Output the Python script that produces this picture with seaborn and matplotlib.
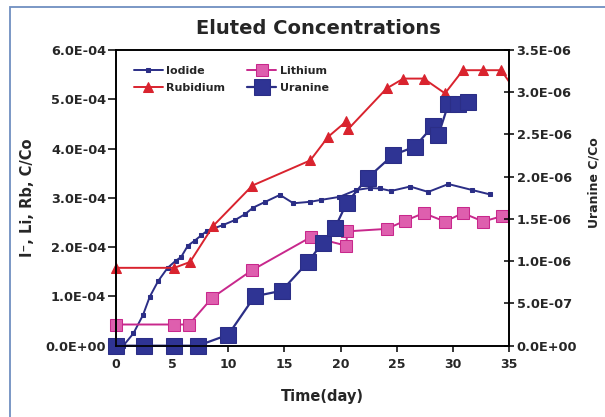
import matplotlib
matplotlib.use("Agg")
import matplotlib.pyplot as plt
import pandas as pd
import seaborn as sns
from matplotlib.patches import Rectangle
from matplotlib.ticker import FixedLocator, FuncFormatter

# ---- data (left axis series in units of 1e-4, uranine in units of 1e-6) ----
iodide_day = [0.0, 0.65, 1.55, 2.4, 3.0, 3.75, 4.6, 5.3, 5.8, 6.4, 7.0, 7.6, 8.1,
              9.55, 10.6, 11.5, 12.2, 13.3, 14.6, 15.8, 17.3, 18.3, 19.9, 21.4,
              22.6, 23.5, 24.5, 26.2, 27.8, 29.6, 31.7, 33.3]
iodide_c = [0.0, 0.0, 0.25, 0.62, 0.99, 1.31, 1.58, 1.72, 1.80, 2.03, 2.13, 2.24, 2.33,
            2.45, 2.55, 2.67, 2.80, 2.92, 3.06, 2.89, 2.92, 2.96, 3.02, 3.16,
            3.20, 3.19, 3.14, 3.23, 3.12, 3.28, 3.16, 3.07]

rubidium_day = [0.0, 5.2, 6.6, 8.65, 12.15, 17.3, 18.9, 20.5, 20.7, 24.1, 25.6,
                27.4, 29.3, 30.9, 32.7, 34.3, 35.0]
rubidium_c = [1.58, 1.58, 1.70, 2.43, 3.25, 3.76, 4.24, 4.55, 4.40, 5.22, 5.42,
              5.42, 5.12, 5.59, 5.59, 5.59, 5.36]

lithium_day = [0.0, 5.2, 6.5, 8.55, 12.1, 17.4, 20.5, 20.6, 24.1, 25.7, 27.4,
               29.3, 30.9, 32.7, 34.4, 35.0]
lithium_c = [0.43, 0.43, 0.43, 0.97, 1.53, 2.21, 2.03, 2.32, 2.37, 2.53, 2.69,
             2.52, 2.69, 2.52, 2.63, 2.59]

uranine_day = [0.0, 2.5, 5.2, 7.3, 10.0, 12.35, 14.75, 17.1, 18.4, 19.5, 20.55,
               22.4, 24.65, 26.6, 28.2, 28.7, 29.6, 30.5, 31.35]
uranine_c = [0.0, 0.0, 0.0, 0.0, 0.13, 0.585, 0.65, 0.99, 1.22, 1.395, 1.69,
             1.985, 2.255, 2.355, 2.595, 2.49, 2.86, 2.86, 2.89]

left_ticks = [0.0, 1e-4, 2e-4, 3e-4, 4e-4, 5e-4, 6e-4]
right_ticks = [0.0, 5e-7, 1e-6, 1.5e-6, 2e-6, 2.5e-6, 3e-6, 3.5e-6]
x_ticks = [0, 5, 10, 15, 20, 25, 30, 35]

NAVY = "#2b2e86"
RED = "#d9232e"
MAGENTA = "#c8288c"

iod = pd.DataFrame({"day": iodide_day, "c": [v * 1e-4 for v in iodide_c]})
rb = pd.DataFrame({"day": rubidium_day, "c": [v * 1e-4 for v in rubidium_c]})
li = pd.DataFrame({"day": lithium_day, "c": [v * 1e-4 for v in lithium_c]})
ur = pd.DataFrame({"day": uranine_day, "c": [v * 1e-6 for v in uranine_c]})

sns.set_theme(style="white")
plt.rcParams["font.family"] = ["DejaVu Sans"]
plt.rcParams["font.weight"] = "bold"
plt.rcParams["axes.labelweight"] = "bold"

fig = plt.figure(figsize=(6.05, 4.17), dpi=100)
fig.patch.set_facecolor("white")
# light frame around the figure
fig.add_artist(Rectangle((10 / 605, -0.2), 1.2, 1.2 - 7 / 417, transform=fig.transFigure,
                         fill=False, edgecolor="#6f8fc0", linewidth=1.3))

ax = fig.add_axes([116 / 605, 1 - 345.7 / 417, 393 / 605, 295.7 / 417])
ax2 = ax.twinx()

sns.lineplot(data=iod, x="day", y="c", ax=ax, color=NAVY, linewidth=1.4, sort=False,
             estimator=None, marker="s", markersize=3.5, markeredgecolor=NAVY,
             markerfacecolor=NAVY, clip_on=False, label="Iodide")
sns.lineplot(data=rb, x="day", y="c", ax=ax, color=RED, linewidth=1.4, sort=False,
             estimator=None, marker="^", markersize=7, markeredgecolor=RED,
             markerfacecolor=RED, clip_on=False, markevery=list(range(len(rb) - 1)),
             label="Rubidium")
sns.lineplot(data=li, x="day", y="c", ax=ax, color=MAGENTA, linewidth=1.4, sort=False,
             estimator=None, marker="s", markersize=8, markeredgecolor=MAGENTA,
             markerfacecolor="#de5fae", clip_on=False, markevery=list(range(len(li) - 1)),
             label="Lithium")
sns.lineplot(data=ur, x="day", y="c", ax=ax2, color=NAVY, linewidth=1.6, sort=False,
             estimator=None, marker="s", markersize=11, markeredgecolor=NAVY,
             markerfacecolor="#2f3494", clip_on=False, label="Uranine")

h1, l1 = ax.get_legend_handles_labels()
h2, l2 = ax2.get_legend_handles_labels()
if ax.get_legend() is not None:
    ax.get_legend().remove()
if ax2.get_legend() is not None:
    ax2.get_legend().remove()
handles = dict(zip(l1 + l2, h1 + h2))
order = ["Iodide", "Rubidium", "Lithium", "Uranine"]
ax2.legend([handles[k] for k in order], order, ncol=2, frameon=False,
           loc="upper left", bbox_to_anchor=(0.02, 0.98), fontsize=8,
           handlelength=2.6, columnspacing=2.0, labelspacing=0.6, handletextpad=0.3)

ax.set_xlim(0, 35)
ax.set_ylim(0, 6e-4)
ax2.set_ylim(0, 3.5e-6)

sci = FuncFormatter(lambda v, p: f"{v:.1E}")
ax.xaxis.set_major_locator(FixedLocator(x_ticks))
ax.yaxis.set_major_locator(FixedLocator(left_ticks))
ax.yaxis.set_major_formatter(sci)
ax2.yaxis.set_major_locator(FixedLocator(right_ticks))
ax2.yaxis.set_major_formatter(sci)

for a in (ax, ax2):
    for s in a.spines.values():
        s.set_color("black")
        s.set_linewidth(1.2)
ax.tick_params(axis="y", direction="out", length=6, width=1.1, color="black",
               labelsize=9.3, pad=1, left=True)
ax.tick_params(axis="x", direction="out", length=4, width=1.1, color="black",
               labelsize=9, pad=5, bottom=True)
ax2.tick_params(axis="y", direction="inout", length=7, width=1.1, color="black",
                labelsize=9.3, pad=2, right=True)
for lab in ax.get_xticklabels() + ax.get_yticklabels() + ax2.get_yticklabels():
    lab.set_fontweight("bold")

ax.set_xlabel("Time(day)", fontsize=10.5, fontweight="bold")
ax.xaxis.set_label_coords(0.524, -0.145)
ax.set_ylabel("I\u207b, Li, Rb, C/Co", fontsize=10.5, fontweight="bold")
ax.yaxis.set_label_coords(-0.205, 0.5)
ax2.set_ylabel("Uranine C/Co", fontsize=9, fontweight="bold", rotation=90)
ax2.yaxis.set_label_coords(1.2, 0.55)

fig.text(318 / 605, 1 - 28 / 417, "Eluted Concentrations", ha="center", va="center",
         fontsize=14, fontweight="bold")

fig.savefig("out.png", dpi=100, facecolor="white")
